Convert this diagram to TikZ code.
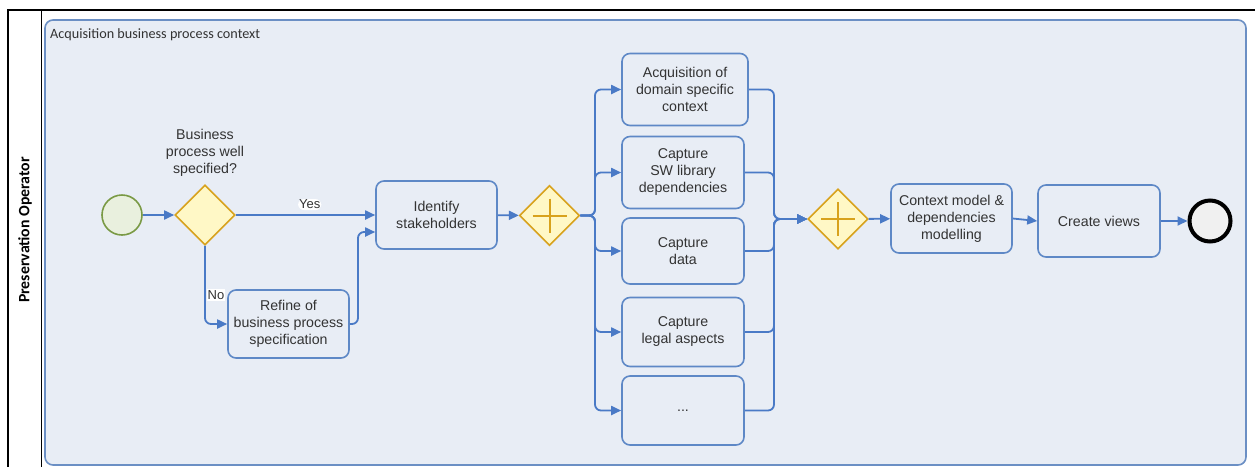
\documentclass[tikz,border=0pt]{standalone}
\usepackage{fontspec}
\setmainfont{Liberation Sans}
\newfontfamily\lanefont{Carlito}
\usetikzlibrary{arrows.meta,shapes.geometric}
\definecolor{boxline}{HTML}{5E88C6}
\definecolor{flowline}{HTML}{4A7AC6}
\definecolor{poolfill}{HTML}{E8EDF5}
\definecolor{poolline}{HTML}{6B8FC4}
\definecolor{gwfill}{HTML}{FFF8C6}
\definecolor{gwline}{HTML}{D8A21C}
\definecolor{startfill}{HTML}{E9F0DE}
\definecolor{startline}{HTML}{7A9A45}
\definecolor{endfill}{HTML}{F0F0F0}
\definecolor{txt}{HTML}{333333}
\begin{document}
\begin{tikzpicture}[x=1pt,y=-1pt,
  task/.style={draw=boxline, line width=1.6pt, rounded corners=8pt, fill=poolfill,
    align=center, text=txt, font=\fontsize{14.2}{17}\selectfont, inner sep=0pt},
  gateway/.style={diamond, draw=gwline, fill=gwfill, line width=1.6pt,
    minimum width=60pt, minimum height=60pt, inner sep=0pt},
  plus/.style={draw=gwline, line width=2pt},
  flow/.style={draw=flowline, line width=1.8pt,
    -{Triangle[length=10pt,width=9pt]}, rounded corners=6pt},
  flowlabel/.style={fill=white, inner sep=1pt, text=txt, font=\fontsize{13}{15}\selectfont},
]
\useasboundingbox (0,0) rectangle (1255,467);
\fill[white] (0,0) rectangle (1255,467);

% swimlane frame
\draw[black, line width=2pt] (7,10) -- (1255,10);
\draw[black, line width=1.5pt] (8,10) -- (8,467);
\draw[black, line width=1pt] (41,10) -- (41,467);
\node[rotate=90, font=\lanefont\bfseries\fontsize{15.8}{18}\selectfont] (lane) at (25,230) {Preservation Operator};

% sub-process container
\draw[poolline, fill=poolfill, line width=1.6pt, rounded corners=8pt] (45,20) rectangle (1246,465);
\node[anchor=west, text=txt, font=\lanefont\fontsize{14.2}{16}\selectfont, inner sep=0pt] (ctxlabel) at (50,35) {Acquisition business process context};

% events and gateways
\node[circle, draw=startline, fill=startfill, line width=1.6pt, minimum size=40pt, inner sep=0pt] (start) at (122,215) {};
\node[gateway] (gw) at (205,215) {};
\node[align=center, text=txt, font=\fontsize{14.2}{17}\selectfont] (q) at (205,153) {Business\\process well\\specified?};

\node[gateway] (g1) at (549.5,215.5) {};
\draw[plus] (g1.center) ++(-17,0) -- ++(34,0);
\draw[plus] (g1.center) ++(0,-17) -- ++(0,34);

\node[gateway] (g2) at (838,219) {};
\draw[plus] (g2.center) ++(-17,0) -- ++(34,0);
\draw[plus] (g2.center) ++(0,-17) -- ++(0,34);

\node[circle, draw=black, fill=endfill, line width=4pt, minimum size=41pt, inner sep=0pt] (end) at (1210,221) {};

% tasks
\node[task, minimum width=121pt, minimum height=68pt] (refine) at (288.5,324) {Refine of\\business process\\specification};
\node[task, minimum width=121pt, minimum height=68pt] (ident) at (436.5,215) {Identify\\stakeholders};
\node[task, minimum width=126pt, minimum height=72pt] (ta) at (685,89.5) {Acquisition of\\domain specific\\context};
\node[task, minimum width=122pt, minimum height=72pt] (tb) at (683,172.5) {Capture\\SW library\\dependencies};
\node[task, minimum width=122pt, minimum height=66pt] (tc) at (683,251) {Capture\\data};
\node[task, minimum width=122pt, minimum height=69pt] (td) at (683,332) {Capture\\legal aspects};
\node[task, minimum width=122pt, minimum height=69pt] (te) at (683,410.5) {...};
\node[task, minimum width=121pt, minimum height=69pt] (model) at (951.5,218.5) {Context model \&\\dependencies\\modelling};
\node[task, minimum width=122pt, minimum height=72pt] (views) at (1099,221) {Create views};

% routing points
\coordinate (fork) at (595,215.5);
\coordinate (join) at (774,219);
\coordinate (rj) at (358,232);

% sequence flows
\draw[flow] (start) -- (gw);
\draw[flow] (gw.east) -- node[flowlabel, above=4pt, pos=0.53] (yes) {Yes} (ident.west);
\draw[flow] (gw.south) |- (refine.west);
\node[flowlabel] (no) at (216,295) {No};
\draw[flow] (refine.east) -| (rj) -- (ident.west |- rj);
\draw[flow] (ident) -- (g1);
\foreach \t in {ta,tb,tc,td,te}{
  \draw[flow] (g1.east) -- (fork) |- (\t.west);
  \draw[flow] (\t.east) -| (join) -- (g2.west);
}
\draw[flow] (g2) -- (model);
\draw[flow] (model.east) -- (views.west);
\draw[flow] (views) -- (end);
\end{tikzpicture}
\end{document}
